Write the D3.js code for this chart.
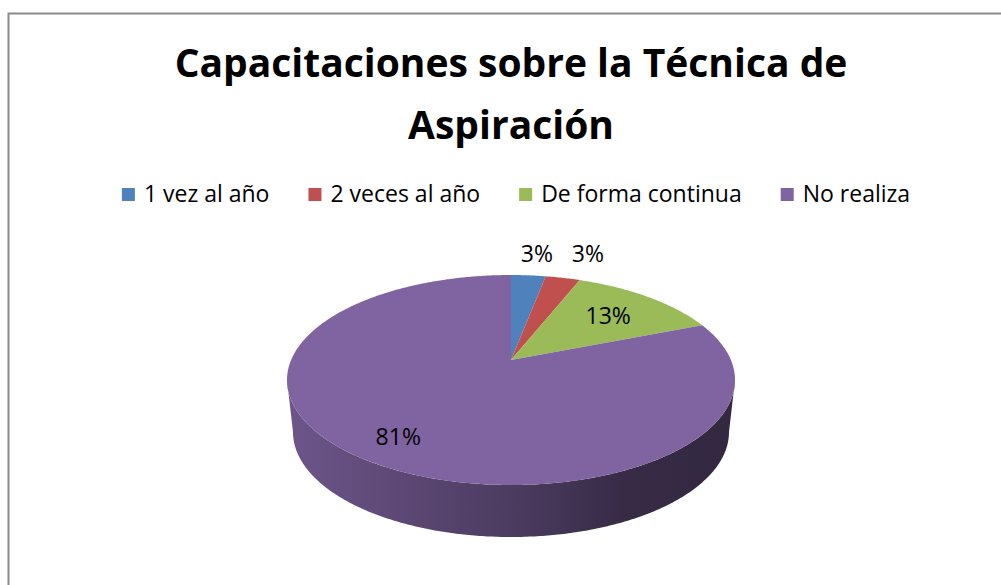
<!DOCTYPE html>
<html>
<head>
<meta charset="utf-8">
<script src="https://cdn.jsdelivr.net/npm/d3@7"></script>
<style>
  html, body { margin: 0; padding: 0; background: #fff; }
  svg { display: block; }
</style>
</head>
<body>
<div id="chart"></div>
<script>
// data
const categories = ["1 vez al año", "2 veces al año", "De forma continua", "No realiza"];
const values = [3, 3, 13, 81];
const sliceColors = ["#4f81bd", "#c0504d", "#9bbb59", "#8064a2"];
const titleLines = ["Capacitaciones sobre la Técnica de", "Aspiración"];

const width = 1001, height = 585;

const svg = d3.select("#chart")
  .append("svg")
  .attr("width", width)
  .attr("height", height);

// outer frame (runs off the right and bottom edge)
svg.append("rect")
  .attr("x", 8.5)
  .attr("y", 13.5)
  .attr("width", 1200)
  .attr("height", 800)
  .attr("fill", "#fff")
  .attr("stroke", "#8a8a8a")
  .attr("stroke-width", 2);

// title
svg.append("g")
  .selectAll("text")
  .data(titleLines)
  .enter()
  .append("text")
  .attr("x", 511)
  .attr("y", (d, i) => 77 + i * 62)
  .attr("text-anchor", "middle")
  .style("font-family", "'Open Sans', sans-serif")
  .style("font-weight", "bold")
  .style("font-size", "39px")
  .attr("fill", "#000")
  .text(d => d);

// legend
const legend = svg.append("g");
const items = legend.selectAll("g")
  .data(categories)
  .enter()
  .append("g");

items.append("rect")
  .attr("y", 188)
  .attr("width", 13)
  .attr("height", 13)
  .attr("fill", (d, i) => sliceColors[i]);

items.append("text")
  .attr("x", 22)
  .attr("y", 202)
  .style("font-family", "'Open Sans', sans-serif")
  .style("font-size", "23px")
  .attr("fill", "#000")
  .text(d => d);

const widths = [];
items.each(function () { widths.push(22 + this.querySelector("text").getComputedTextLength()); });
const gap = 39;
const total = d3.sum(widths) + gap * (widths.length - 1);
let lx = 516 - total / 2;
items.attr("transform", (d, i) => {
  const t = `translate(${lx},0)`;
  lx += widths[i] + gap;
  return t;
});

// 3d pie
const cx = 511, cy = 380, rx = 224, ry = 105;
const depth = 52, rxb = 218, ryb = 105;
const persp = -0.19; // how far the apex is lifted (perspective)
const k = Math.sqrt(1 - persp * persp);

function proj(theta, r) {
  const u = r * Math.sin(theta), v = -r * Math.cos(theta);
  const w = 1 + persp * v;
  return [u * k / w, (v + persp) / w];
}
function topPt(theta, r) {
  const p = proj(theta, r);
  return [cx + rx * p[0], cy + ry * p[1]];
}
function bottomPt(theta) {
  const p = proj(theta, 1);
  return [cx + rxb * p[0], cy + depth + ryb * p[1]];
}
function samples(a0, a1) {
  const n = Math.max(2, Math.ceil(Math.abs(a1 - a0) / 0.01));
  return d3.range(n + 1).map(i => a0 + (a1 - a0) * i / n);
}

const pie = d3.pie().sort(null).startAngle(0).endAngle(2 * Math.PI);
const arcs = pie(values);
const line = d3.line();

const defs = svg.append("defs");
arcs.forEach((d, i) => {
  const base = d3.color(sliceColors[i]);
  const g = defs.append("linearGradient")
    .attr("id", "side" + i)
    .attr("gradientUnits", "userSpaceOnUse")
    .attr("x1", cx - rx).attr("x2", cx + rx)
    .attr("y1", 0).attr("y2", 0);
  [[0, 0.45], [0.3, 1.0], [0.55, 1.6], [0.75, 2.35], [1, 2.6]].forEach(s => {
    g.append("stop").attr("offset", s[0]).attr("stop-color", base.darker(s[1]).formatHex());
  });
});

// front wall, only the visible part
const thR = Math.acos(persp), thL = 2 * Math.PI - thR;
const sides = svg.append("g");
arcs.forEach((d, i) => {
  const s = Math.max(d.startAngle, thR), e = Math.min(d.endAngle, thL);
  if (e <= s) return;
  const pts = samples(s, e).map(t => topPt(t, 1))
    .concat(samples(e, s).map(t => bottomPt(t)));
  sides.append("path")
    .attr("d", line(pts) + "Z")
    .attr("fill", `url(#side${i})`);
});

// top face
const apex = topPt(0, 0);
svg.append("g")
  .selectAll("path")
  .data(arcs)
  .enter()
  .append("path")
  .attr("d", d => line([apex].concat(samples(d.startAngle, d.endAngle).map(t => topPt(t, 1)))) + "Z")
  .attr("fill", (d, i) => sliceColors[i]);

// data labels
svg.append("g")
  .selectAll("text")
  .data(arcs)
  .enter()
  .append("text")
  .attr("transform", d => {
    const mid = (d.startAngle + d.endAngle) / 2;
    let p;
    if (d.value < 10) {
      p = [cx + rx * 1.23 * Math.sin(mid), cy - ry - 21.5];
    } else {
      p = topPt(mid, 0.66 + 0.17 * d.value / 100);
    }
    return `translate(${p[0]},${p[1]})`;
  })
  .attr("dy", "0.36em")
  .attr("text-anchor", "middle")
  .style("font-family", "'Open Sans', sans-serif")
  .style("font-size", "23px")
  .attr("fill", "#000")
  .text(d => d.value + "%");
</script>
</body>
</html>
